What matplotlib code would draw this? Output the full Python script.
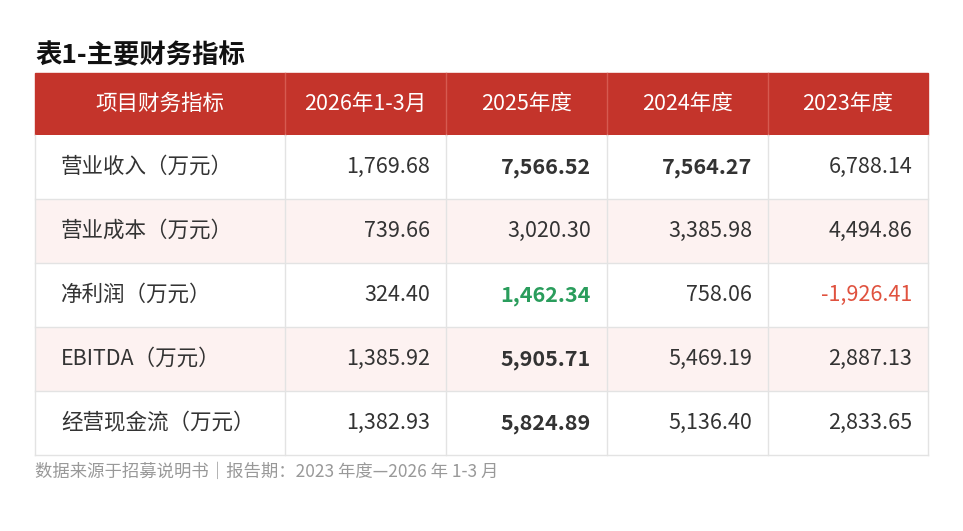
import matplotlib.pyplot as plt
from matplotlib.patches import Rectangle

plt.rcParams['font.family'] = ['Noto Sans CJK SC', 'DejaVu Sans']

title = "表1-主要财务指标"
headers = ["项目财务指标", "2026年1-3月", "2025年度", "2024年度", "2023年度"]
row_names = ["营业收入（万元）", "营业成本（万元）", "净利润（万元）", "EBITDA（万元）", "经营现金流（万元）"]
values = [
    ["1,769.68", "7,566.52", "7,564.27", "6,788.14"],
    ["739.66", "3,020.30", "3,385.98", "4,494.86"],
    ["324.40", "1,462.34", "758.06", "-1,926.41"],
    ["1,385.92", "5,905.71", "5,469.19", "2,887.13"],
    ["1,382.93", "5,824.89", "5,136.40", "2,833.65"],
]
# highlight style per cell: 'b' bold, 'g' green bold, 'r' red
styles = [
    ["", "b", "b", ""],
    ["", "", "", ""],
    ["", "g", "", "r"],
    ["", "b", "", ""],
    ["", "b", "", ""],
]
footer = "数据来源于招募说明书｜报告期：2023 年度—2026 年 1-3 月"

fig = plt.figure(figsize=(9.63, 5.31), dpi=100)
ax = fig.add_axes([0, 0, 1, 1])
ax.set_xlim(0, 963)
ax.set_ylim(531, 0)
ax.axis('off')

cols = [35, 285, 446, 607, 768, 928]
top, head_h, row_h = 73, 62, 64
red = "#c4342b"
grid = "#e3e3e3"

ax.text(35, 56, title, fontsize=19, fontweight='bold', color='#111111', va='center')

ax.add_patch(Rectangle((cols[0], top), cols[-1] - cols[0], head_h, color=red, zorder=1))
for j, h in enumerate(headers):
    cx = (cols[j] + cols[j + 1]) / 2
    ax.text(cx, top + head_h / 2, h, fontsize=15.5, color='white', ha='center', va='center', zorder=3)
for x in cols[1:-1]:
    ax.plot([x, x], [top, top + head_h], color='#d65a50', lw=1, zorder=2)

y0 = top + head_h
for i, name in enumerate(row_names):
    y = y0 + i * row_h
    bg = "#fdf2f1" if i % 2 == 1 else "white"
    ax.add_patch(Rectangle((cols[0], y), cols[-1] - cols[0], row_h, facecolor=bg, edgecolor='none', zorder=1))
    ax.text(cols[0] + 26, y + row_h / 2, name, fontsize=15.5, color='#333333', va='center', zorder=3)
    for j, v in enumerate(values[i]):
        s = styles[i][j]
        color = {'g': '#2a9d5c', 'r': '#e0523f'}.get(s, '#333333')
        weight = 'bold' if s in ('b', 'g') else 'normal'
        ax.text(cols[j + 2] - 16, y + row_h / 2, v, fontsize=15.5, color=color,
                fontweight=weight, ha='right', va='center', zorder=3)
    ax.plot([cols[0], cols[-1]], [y + row_h, y + row_h], color=grid, lw=1, zorder=2)

bottom = y0 + len(row_names) * row_h
for x in cols:
    ax.plot([x, x], [y0, bottom], color=grid, lw=1, zorder=2)

ax.text(35, 472, footer, fontsize=12.5, color='#999999', va='center')

fig.savefig('out.png', dpi=100)
